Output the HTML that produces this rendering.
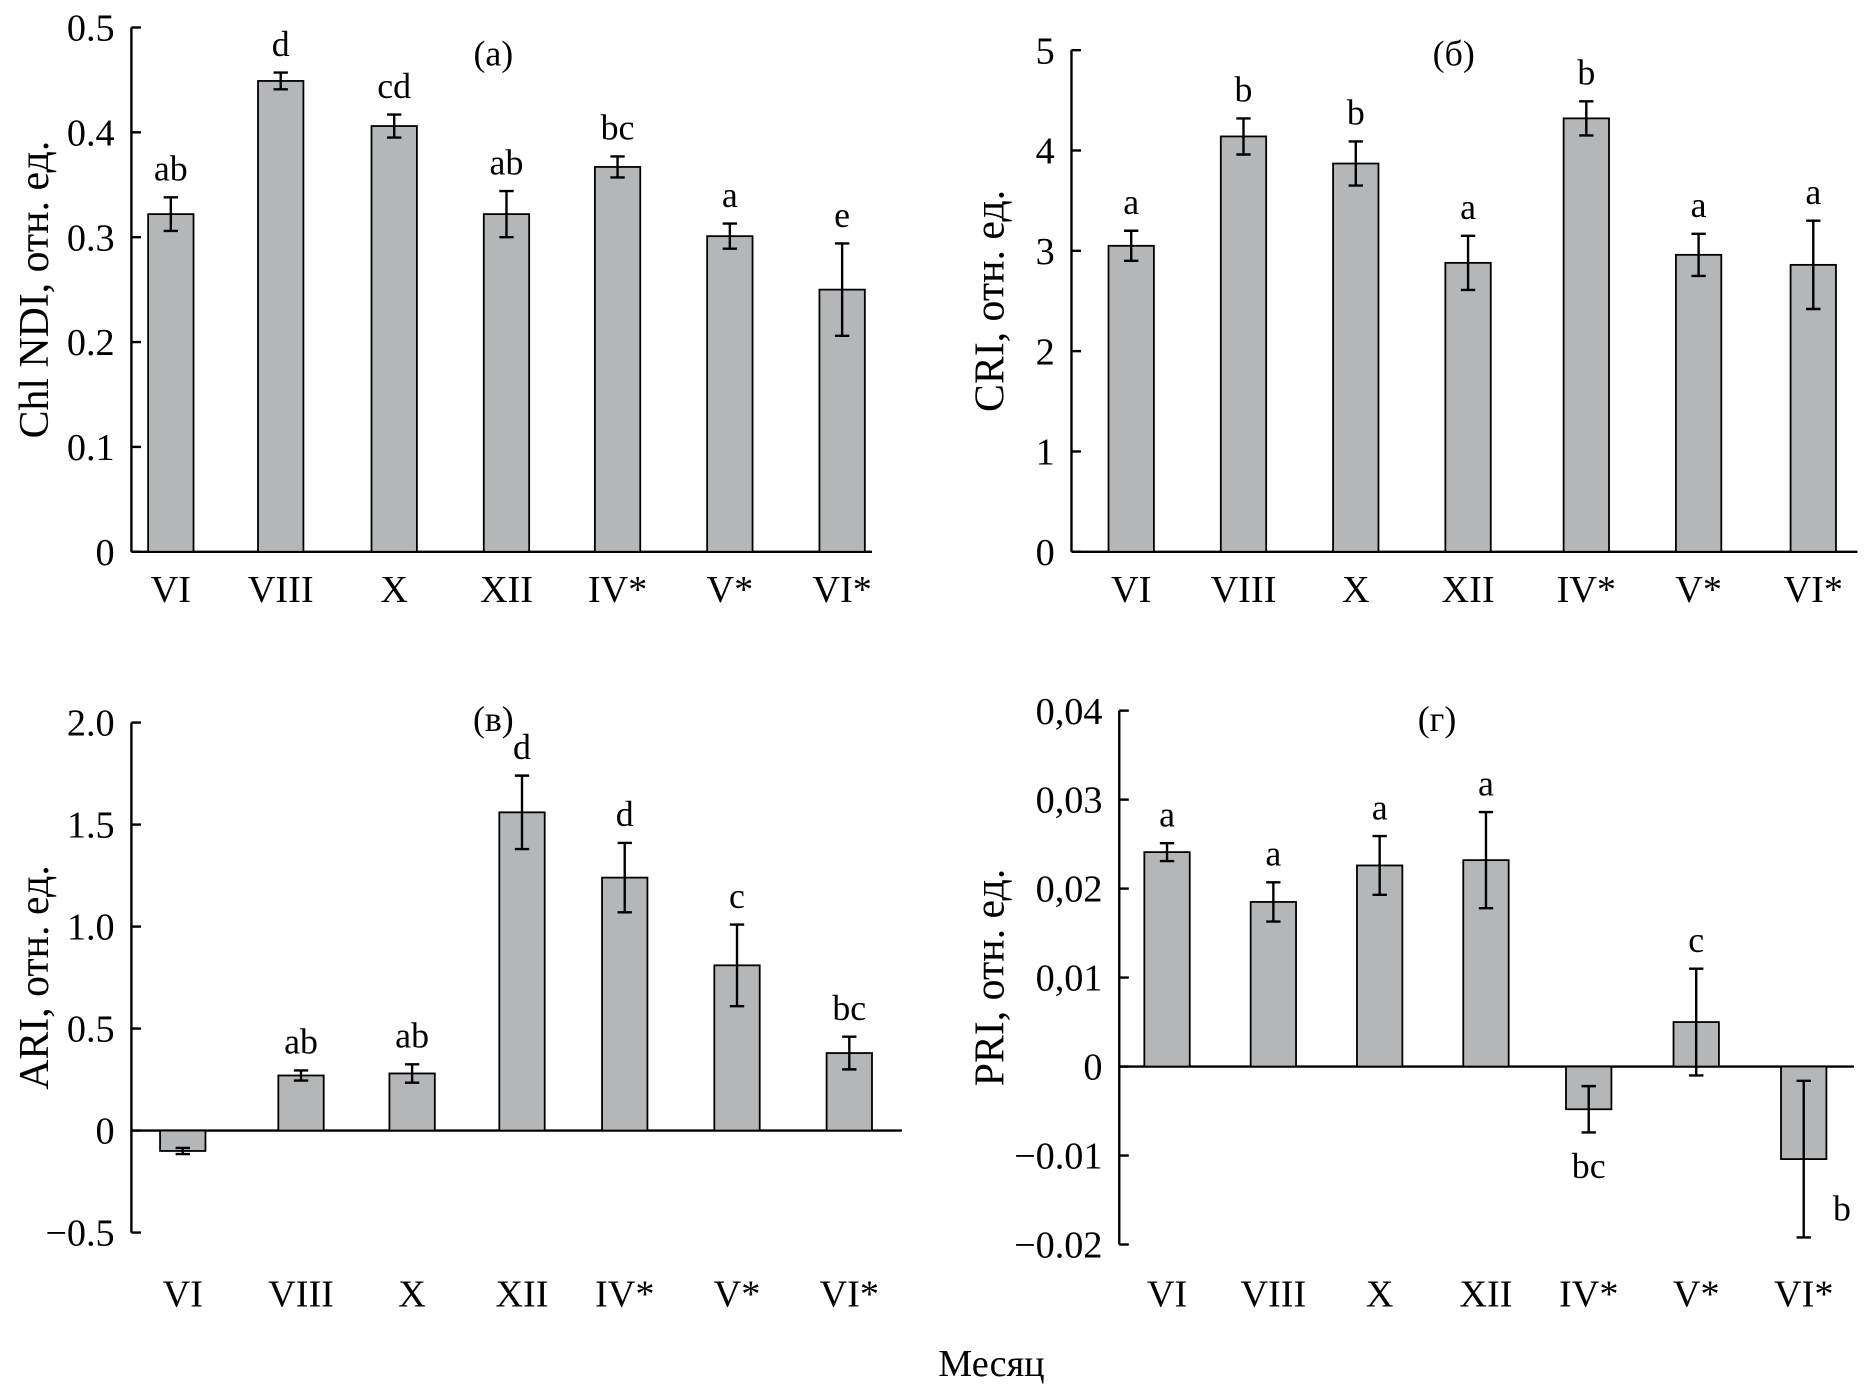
<!DOCTYPE html>
<html><head><meta charset="utf-8"><style>
html,body{margin:0;padding:0;background:#fff;}
svg{display:block;}
text{font-family:"Liberation Serif","DejaVu Serif",serif;fill:#000;}
</style></head><body>
<svg id="chart" width="1873" height="1395" viewBox="0 0 1568 1168" preserveAspectRatio="none" xmlns="http://www.w3.org/2000/svg">
<text x="830" y="1152" font-size="32" text-anchor="middle">Месяц</text>
</svg>
<script>
const categories = ["VI","VIII","X","XII","IV*","V*","VI*"];
const chlValues = [0.322,0.449,0.406,0.322,0.367,0.301,0.250];
const chlErrors = [0.016,0.008,0.011,0.022,0.010,0.012,0.044];
const chlLetters = ["ab","d","cd","ab","bc","a","e"];
const chlTicks = ["0","0.1","0.2","0.3","0.4","0.5"];
const criValues = [3.05,4.14,3.87,2.88,4.32,2.96,2.86];
const criErrors = [0.15,0.18,0.22,0.27,0.17,0.21,0.44];
const criLetters = ["a","b","b","a","b","a","a"];
const criTicks = ["0","1","2","3","4","5"];
const ariValues = [-0.10,0.27,0.28,1.56,1.24,0.81,0.38];
const ariErrors = [0.015,0.025,0.045,0.18,0.17,0.20,0.08];
const ariLetters = ["","ab","ab","d","d","c","bc"];
const ariTicks = ["\u22120.5","0","0.5","1.0","1.5","2.0"];
const priValues = [0.0241,0.0185,0.0226,0.0232,-0.0048,0.0050,-0.0104];
const priErrors = [0.0010,0.0022,0.0033,0.0054,0.0026,0.0060,0.0088];
const priLetters = ["a","a","a","a","bc","c","b"];
const priTicks = ["\u22120.02","\u22120.01","0","0,01","0,02","0,03","0,04"];

const NS="http://www.w3.org/2000/svg";
const svg=document.getElementById('chart');
function mk(tag,attrs,parent){const e=document.createElementNS(NS,tag);for(const k in attrs)e.setAttribute(k,attrs[k]);(parent||svg).appendChild(e);return e;}

function panel(cfg){
  const g=mk('g',{});
  
  
  const y=v=>cfg.py0-(v-cfg.vmin)/(cfg.vmax-cfg.vmin)*(cfg.py0-cfg.py1);
  const ax=mk('line',{x1:cfg.ax,y1:y(cfg.vmax),x2:cfg.ax,y2:y(cfg.vmin),stroke:'#000','stroke-width':2},g);
  
  
  cfg.tickVals.forEach((v,i)=>{
    mk('line',{x1:cfg.ax,y1:y(v),x2:cfg.ax+8,y2:y(v),stroke:'#000','stroke-width':2},g);
    const t=mk('text',{x:cfg.ax-14,y:y(v)+11,'font-size':32,'text-anchor':'end'},g);
    t.textContent=cfg.ticks[i];
    
    
  });
  const zl=mk('line',{x1:cfg.ax,y1:y(0),x2:cfg.axEnd,y2:y(0),stroke:'#000','stroke-width':2},g);
  
  
  const bw=38;
  categories.forEach((c,i)=>{
    const cx=cfg.xs[i];
    const v=cfg.values[i], e=cfg.errors[i];
    const top=Math.min(y(v),y(0)), h=Math.abs(y(v)-y(0));
    const b=mk('rect',{x:cx-bw/2,y:top,width:bw,height:h,fill:'#b5b6b8',stroke:'#000','stroke-width':1.5},g);
    
    
    const eb=mk('path',{d:`M${cx},${y(v+e)}V${y(v-e)}M${cx-6},${y(v+e)}h12M${cx-6},${y(v-e)}h12`,stroke:'#000','stroke-width':2,fill:'none'},g);
    
    
    const xl=mk('text',{x:cx,y:cfg.labelY,'font-size':32,'text-anchor':'middle'},g);
    xl.textContent=c;
    
    
    const L=cfg.letters[i];
    if(L){
      let lx=cx, ly;
      if(v>=0) ly=y(v+e)-14;
      else if(cfg.name==='panel-pri' && i===6){lx=cx+32; ly=y(v-e)-14;}
      else ly=y(v-e)+38;
      const lt=mk('text',{x:lx,y:ly,'font-size':30,'text-anchor':'middle'},g);
      lt.textContent=L;
      
      
    }
  });
  const tt=mk('text',{x:cfg.title[1],y:cfg.title[2],'font-size':30,'text-anchor':'middle'},g);
  tt.textContent=cfg.title[0];
  
  
  const yt=mk('text',{x:0,y:0,'font-size':35,'text-anchor':'middle',transform:`translate(${cfg.ytx},${(y(cfg.vmax)+y(cfg.vmin))/2}) rotate(-90)`},g);
  yt.textContent=cfg.ytitle;
  
  
}

panel({name:'panel-chl',ax:110,axEnd:730,vmin:0,vmax:0.5,py0:462,py1:23,tickVals:[0,0.1,0.2,0.3,0.4,0.5],ticks:chlTicks,
  xs:[143,235,330,424,517,611,705],values:chlValues,errors:chlErrors,letters:chlLetters,labelY:504,title:['(a)',413,55],ytx:40,ytitle:'Chl NDI, отн. ед.'});
panel({name:'panel-cri',ax:897,axEnd:1555,vmin:0,vmax:5,py0:462,py1:42,tickVals:[0,1,2,3,4,5],ticks:criTicks,
  xs:[947,1041,1135,1229,1328,1422,1518],values:criValues,errors:criErrors,letters:criLetters,labelY:504,title:['(б)',1217,55],ytx:840,ytitle:'CRI, отн. ед.'});
panel({name:'panel-ari',ax:110,axEnd:755,vmin:-0.5,vmax:2.0,py0:1032,py1:605,tickVals:[-0.5,0,0.5,1.0,1.5,2.0],ticks:ariTicks,
  xs:[153,252,345,437,523,617,711],values:ariValues,errors:ariErrors,letters:ariLetters,labelY:1094,title:['(в)',413,612],ytx:40,ytitle:'ARI, отн. ед.'});
panel({name:'panel-pri',ax:937,axEnd:1552,vmin:-0.02,vmax:0.04,py0:1042,py1:595,tickVals:[-0.02,-0.01,0,0.01,0.02,0.03,0.04],ticks:priTicks,
  xs:[977,1066,1155,1244,1330,1420,1510],values:priValues,errors:priErrors,letters:priLetters,labelY:1094,title:['(г)',1203,612],ytx:840,ytitle:'PRI, отн. ед.'});
</script>
</body></html>
